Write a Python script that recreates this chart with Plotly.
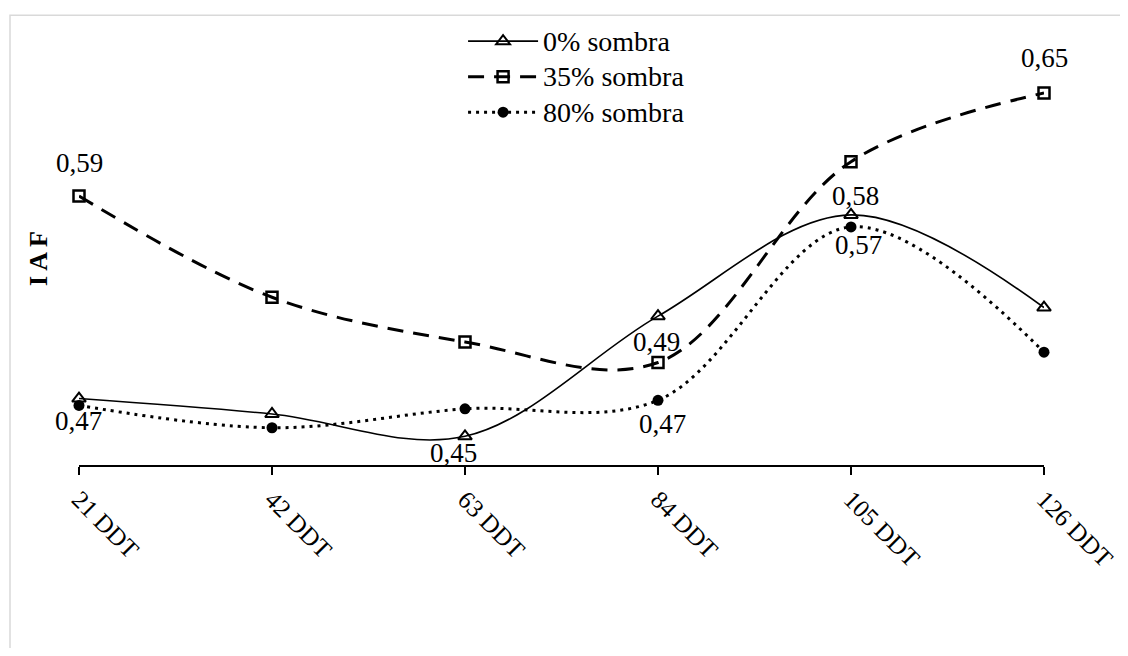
import plotly.graph_objects as go

categories = ["21 DDT", "42 DDT", "63 DDT", "84 DDT", "105 DDT", "126 DDT"]
sombra_0 = [0.472, 0.463, 0.450, 0.520, 0.579, 0.525]
sombra_35 = [0.590, 0.531, 0.505, 0.493, 0.610, 0.650]
sombra_80 = [0.468, 0.455, 0.466, 0.471, 0.572, 0.499]

series_names = ["0% sombra", "35% sombra", "80% sombra"]
series_values = [sombra_0, sombra_35, sombra_80]

# data labels: (series index, category index)
label_points = [(1, 0), (1, 5), (0, 4), (2, 4), (1, 3), (2, 0), (2, 3), (0, 2)]
# pixel offsets of each label centre from its point (x right, y up)
label_offsets = [(0, 33), (0, 35), (4, 19), (7, -18), (-2, 21), (-1, -16), (4, -24), (-12, -17)]

FONT = "Times New Roman, Liberation Serif, Tinos, serif"


def fmt(v):
    return f"{v:.2f}".replace(".", ",")


styles = [
    dict(line=dict(color="black", width=1.6, shape="spline", smoothing=1),
         marker=dict(symbol="triangle-up-open", size=12, color="black", line=dict(width=2))),
    dict(line=dict(color="black", width=3, dash="16px,10px", shape="spline", smoothing=1),
         marker=dict(symbol="square-open", size=11, color="black", line=dict(width=2.5))),
    dict(line=dict(color="black", width=3, dash="3px,5px", shape="spline", smoothing=1),
         marker=dict(symbol="circle", size=11, color="black")),
]

fig = go.Figure()
for name, vals, st in zip(series_names, series_values, styles):
    fig.add_trace(go.Scatter(
        x=categories, y=vals,
        name=f'<span style="font-size:28px">{name}</span>',
        mode="lines+markers", cliponaxis=False, **st,
    ))

annotations = []
for (si, ci), (dx, dy) in zip(label_points, label_offsets):
    v = series_values[si][ci]
    annotations.append(dict(
        x=categories[ci], y=v, xref="x", yref="y", text=fmt(v),
        showarrow=False, xanchor="center", yanchor="middle",
        xshift=dx, yshift=dy,
        font=dict(family=FONT, size=27, color="black"),
    ))
annotations.append(dict(
    text="<b>I A F</b>", xref="paper", yref="paper",
    x=-0.0425, y=(465 - 258) / 406, textangle=-90,
    xanchor="center", yanchor="middle",
    showarrow=False, font=dict(family=FONT, size=26, color="black"),
))

fig.update_layout(
    width=1112, height=640,
    margin=dict(l=71, r=76, t=51, b=183, autoexpand=False),
    paper_bgcolor="white", plot_bgcolor="white",
    font=dict(family=FONT, size=27, color="black"),
    showlegend=True,
    legend=dict(
        x=0.398, y=1.1, xanchor="left", yanchor="top",
        bgcolor="rgba(0,0,0,0)", itemwidth=70,
        font=dict(family=FONT, size=25, color="black"),
        tracegroupgap=0,
    ),
    xaxis=dict(
        type="category", range=[0, 5], automargin=False,
        showline=True, linecolor="black", linewidth=2,
        ticks="outside", ticklen=8, tickwidth=1.5, tickcolor="black",
        tickangle=45, showgrid=False, zeroline=False,
        tickfont=dict(family=FONT, size=25, color="black"),
    ),
    yaxis=dict(
        range=[0.4333, 0.6698], showline=False, showticklabels=False,
        ticks="", showgrid=False, zeroline=False, automargin=False,
    ),
    annotations=annotations,
    shapes=[dict(
        type="rect", xref="paper", yref="paper",
        x0=-0.0715, x1=1.3, y0=-0.8, y1=1.108,
        line=dict(color="#d9d9d9", width=1.5), fillcolor="rgba(0,0,0,0)",
        layer="below",
    )],
)

fig.write_html("out.html")
